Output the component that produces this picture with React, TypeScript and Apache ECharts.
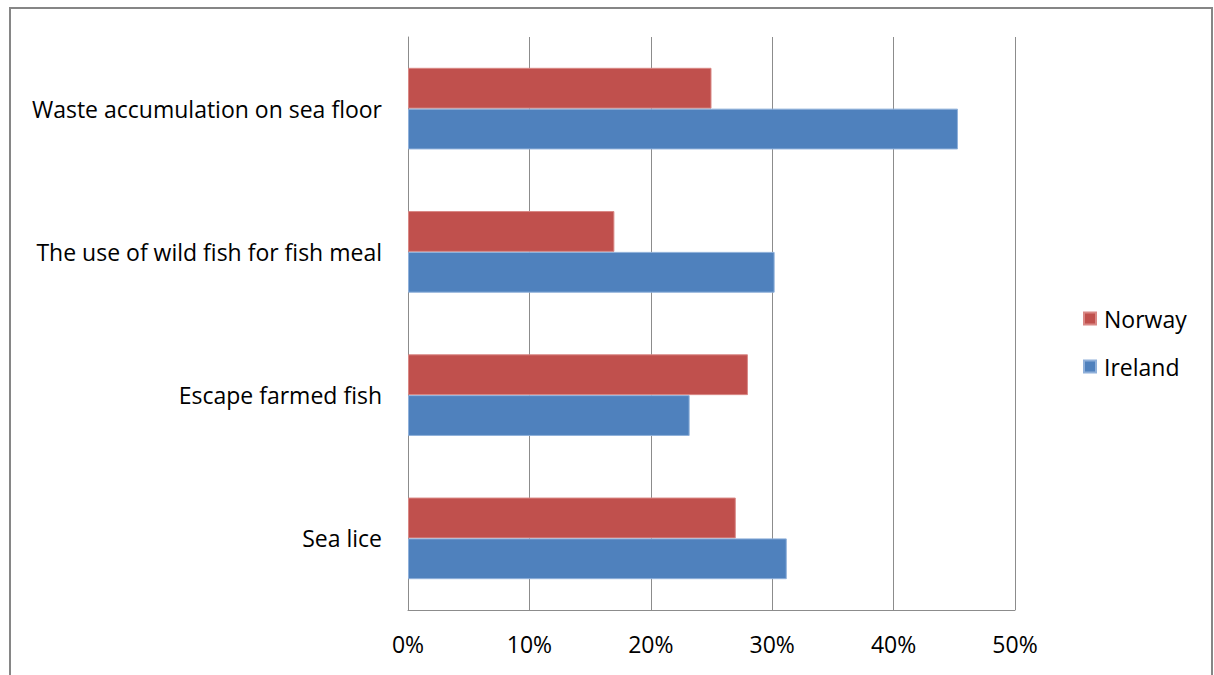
import React, { useEffect, useRef } from "react";
import * as echarts from "echarts";

const categories = ["Sea lice", "Escape farmed fish", "The use of wild fish for fish meal", "Waste accumulation on sea floor"];
const norway = [27, 28, 17, 25];
const ireland = [31.2, 23.2, 30.2, 45.3];
const seriesNames = ["Norway", "Ireland"];

export default function App() {
  const ref = useRef<HTMLDivElement>(null);
  useEffect(() => {
    if (!ref.current) return;
    const chart = echarts.init(ref.current, null, { renderer: "svg" });
    const font = "Open Sans";
    chart.setOption({
      animation: false,
      backgroundColor: "#ffffff",
      textStyle: { fontFamily: font },
      graphic: [
        {
          type: "rect",
          shape: { x: 10, y: 8, width: 1202, height: 700 },
          style: { fill: "none", stroke: "#868686", lineWidth: 2 },
          silent: true,
        },
      ],
      legend: {
        data: seriesNames,
        orient: "vertical",
        left: 1078,
        top: 302,
        itemWidth: 12,
        itemHeight: 12,
        itemGap: 25,
        icon: "rect",
        textStyle: { fontSize: 23, color: "#000", fontFamily: font, padding: [0, 0, 0, 3] },
      },
      grid: { left: 408, right: 199, top: 37, bottom: 65, containLabel: false },
      xAxis: {
        type: "value",
        min: 0,
        max: 50,
        interval: 10,
        axisLine: { show: true, lineStyle: { color: "#8c8c8c", width: 1 } },
        axisTick: { show: false },
        splitLine: { show: true, lineStyle: { color: "#8c8c8c", width: 1 } },
        axisLabel: { formatter: "{value}%", fontSize: 23, color: "#000", margin: 22, fontFamily: font },
      },
      yAxis: {
        type: "category",
        data: categories,
        axisLine: { show: true, lineStyle: { color: "#8c8c8c", width: 1 } },
        axisTick: { show: false },
        axisLabel: { fontSize: 23, color: "#000", margin: 26, fontFamily: font },
      },
      series: [
        {
          name: "Norway",
          type: "bar",
          data: norway,
          barGap: "0%",
          barCategoryGap: "43%",
          itemStyle: { color: "#C0504D", borderColor: "#D98885", borderWidth: 1 },
        },
        {
          name: "Ireland",
          type: "bar",
          data: ireland,
          barGap: "0%",
          barCategoryGap: "43%",
          itemStyle: { color: "#4F81BD", borderColor: "#8FB0DA", borderWidth: 1 },
        },
      ],
    });
    return () => chart.dispose();
  }, []);
  return <div ref={ref} style={{ position: "fixed", left: 0, top: 0, width: 1214, height: 675 }} />;
}
